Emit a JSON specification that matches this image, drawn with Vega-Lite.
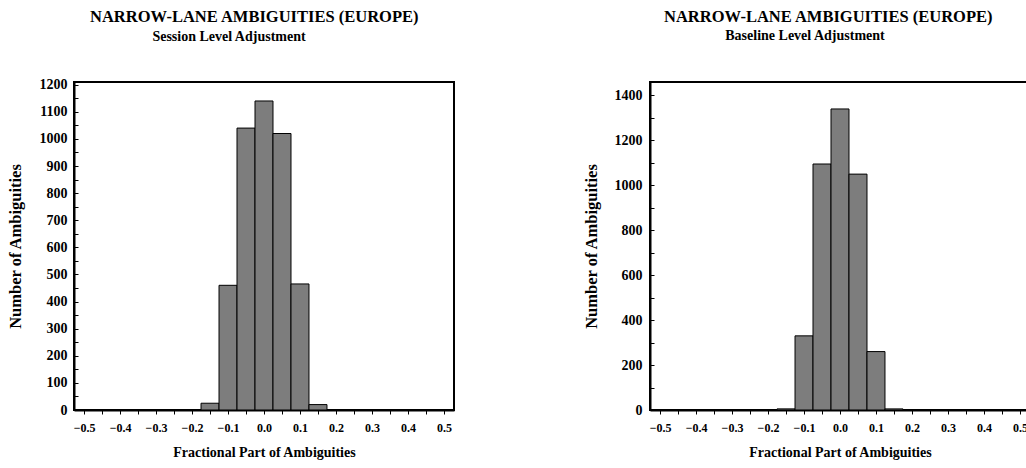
{
  "$schema": "https://vega.github.io/schema/vega-lite/v6.json",
  "background": "white",
  "padding": {"left": 6, "top": 8, "right": 0, "bottom": 0},
  "config": {
    "font": "Liberation Serif",
    "view": {"stroke": "black", "strokeWidth": 2},
    "axis": {
      "grid": false,
      "labelFont": "Liberation Serif",
      "titleFont": "Liberation Serif",
      "labelFontWeight": "bold",
      "titleFontWeight": "bold",
      "labelColor": "black",
      "titleColor": "black",
      "domainColor": "black",
      "domainWidth": 2,
      "tickColor": "black",
      "tickWidth": 1,
      "labelOverlap": false,
      "labelFlush": false
    },
    "title": {
      "font": "Liberation Serif",
      "fontWeight": "bold",
      "color": "black"
    }
  },
  "datasets": {
    "session": [
      {"lo": -0.175, "hi": -0.125, "count": 25},
      {"lo": -0.125, "hi": -0.075, "count": 460},
      {"lo": -0.075, "hi": -0.025, "count": 1040},
      {"lo": -0.025, "hi": 0.025, "count": 1140},
      {"lo": 0.025, "hi": 0.075, "count": 1020},
      {"lo": 0.075, "hi": 0.125, "count": 465},
      {"lo": 0.125, "hi": 0.175, "count": 20}
    ],
    "baseline": [
      {"lo": -0.175, "hi": -0.125, "count": 5},
      {"lo": -0.125, "hi": -0.075, "count": 330},
      {"lo": -0.075, "hi": -0.025, "count": 1095},
      {"lo": -0.025, "hi": 0.025, "count": 1340},
      {"lo": 0.025, "hi": 0.075, "count": 1050},
      {"lo": 0.075, "hi": 0.125, "count": 260},
      {"lo": 0.125, "hi": 0.175, "count": 5}
    ]
  },
  "spacing": 127,
  "hconcat": [
    {
      "title": {"text": "NARROW-LANE AMBIGUITIES (EUROPE)", "fontSize": 16.5, "offset": 3, "anchor": "start", "dx": 84},
      "vconcat": [
        {
          "title": {"text": "Session Level Adjustment", "fontSize": 14, "anchor": "middle", "dx": -35, "offset": 34},
          "width": 380,
          "height": 328,
          "data": {"name": "session"},
          "mark": {"type": "bar", "fill": "#7d7d7d", "stroke": "black", "strokeWidth": 1},
          "encoding": {
            "x": {
              "field": "lo",
              "type": "quantitative",
              "scale": {"domain": [-0.528, 0.528], "nice": false, "zero": false},
              "axis": {
                "title": "Fractional Part of Ambiguities",
                "values": [-0.5, -0.45, -0.4, -0.35, -0.3, -0.25, -0.2, -0.15, -0.1, -0.05, 0, 0.05, 0.1, 0.15, 0.2, 0.25, 0.3, 0.35, 0.4, 0.45, 0.5],
                "labelExpr": "abs(round(datum.value * 20)) % 2 == 0 ? format(datum.value, '.1f') : ''",
                "labelFontSize": 12,
                "titleFontSize": 14,
                "tickSize": 4,
                "labelPadding": 8,
                "titlePadding": 12
              }
            },
            "x2": {"field": "hi"},
            "y": {
              "field": "count",
              "type": "quantitative",
              "scale": {"domain": [0, 1210], "nice": false},
              "axis": {
                "title": "Number of Ambiguities",
                "values": [0, 50, 100, 150, 200, 250, 300, 350, 400, 450, 500, 550, 600, 650, 700, 750, 800, 850, 900, 950, 1000, 1050, 1100, 1150, 1200],
                "labelExpr": "datum.value % 100 == 0 ? format(datum.value, 'd') : ''",
                "labelFontSize": 14,
                "titleFontSize": 16.5,
                "tickSize": -4,
                "labelPadding": 11,
                "titlePadding": 16
              }
            },
            "y2": {"datum": 0}
          }
        }
      ]
    },
    {
      "title": {"text": "NARROW-LANE AMBIGUITIES (EUROPE)", "fontSize": 16.5, "offset": 3, "anchor": "start", "dx": 82},
      "vconcat": [
        {
          "title": {"text": "Baseline Level Adjustment", "fontSize": 14, "anchor": "middle", "dx": -35, "offset": 39},
          "width": 380,
          "height": 328,
          "data": {"name": "baseline"},
          "mark": {"type": "bar", "fill": "#7d7d7d", "stroke": "black", "strokeWidth": 1},
          "encoding": {
            "x": {
              "field": "lo",
              "type": "quantitative",
              "scale": {"domain": [-0.528, 0.528], "nice": false, "zero": false},
              "axis": {
                "title": "Fractional Part of Ambiguities",
                "values": [-0.5, -0.45, -0.4, -0.35, -0.3, -0.25, -0.2, -0.15, -0.1, -0.05, 0, 0.05, 0.1, 0.15, 0.2, 0.25, 0.3, 0.35, 0.4, 0.45, 0.5],
                "labelExpr": "abs(round(datum.value * 20)) % 2 == 0 ? format(datum.value, '.1f') : ''",
                "labelFontSize": 12,
                "titleFontSize": 14,
                "tickSize": 4,
                "labelPadding": 8,
                "titlePadding": 12
              }
            },
            "x2": {"field": "hi"},
            "y": {
              "field": "count",
              "type": "quantitative",
              "scale": {"domain": [0, 1460], "nice": false},
              "axis": {
                "title": "Number of Ambiguities",
                "values": [0, 100, 200, 300, 400, 500, 600, 700, 800, 900, 1000, 1100, 1200, 1300, 1400],
                "labelExpr": "datum.value % 200 == 0 ? format(datum.value, 'd') : ''",
                "labelFontSize": 14,
                "titleFontSize": 16.5,
                "tickSize": -4,
                "labelPadding": 12,
                "titlePadding": 15
              }
            },
            "y2": {"datum": 0}
          }
        }
      ]
    }
  ]
}
